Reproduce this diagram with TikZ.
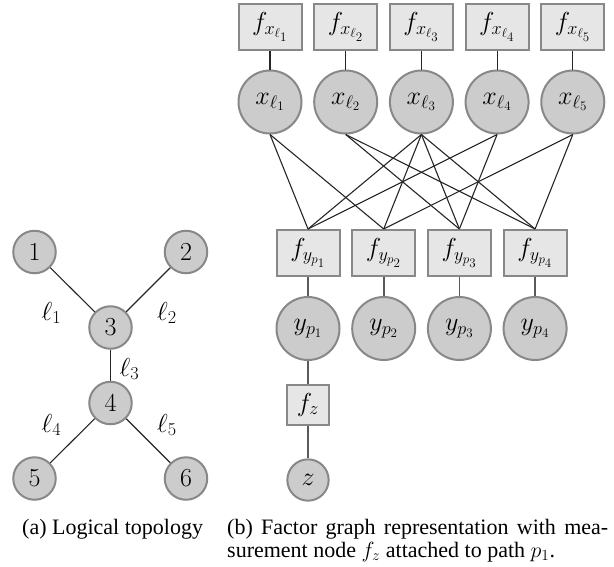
\RequirePackage{fix-cm}
\documentclass[tikz,border=0pt]{standalone}
\usepackage[no-math]{fontspec}
\setmainfont{Liberation Serif}
\definecolor{varfill}{HTML}{CCCCCC}
\definecolor{facfill}{HTML}{E6E6E6}
\definecolor{nodeborder}{HTML}{888888}
\definecolor{tiegray}{HTML}{5A5A5A}
\newcommand\graphfont{\fontsize{26}{30}\selectfont}
\newcommand\capfont{\fontsize{22}{23}\selectfont}
\tikzset{
  topo/.style={circle, draw=nodeborder, fill=varfill, line width=2pt,
    minimum size=42.5pt, inner sep=0pt, font=\graphfont},
  var/.style={circle, draw=nodeborder, fill=varfill, line width=2pt,
    minimum size=63pt, inner sep=0pt, font=\graphfont},
  fac/.style={rectangle, draw=nodeborder, fill=facfill, line width=2pt,
    minimum width=63pt, minimum height=46pt, inner sep=0pt, font=\graphfont},
  linklabel/.style={font=\graphfont, inner sep=0pt},
  link/.style={line width=1.1pt, black!85},
  tie/.style={line width=1.6pt, draw=tiegray},
  captext/.style={font=\capfont, inner sep=0pt, anchor=base west},
}
\begin{document}
\begin{tikzpicture}[x=1pt, y=-1pt]
  \useasboundingbox (0,0) rectangle (614,566);

  % (a) logical topology
  \node[topo] (n1) at (34.5,252) {$1$};
  \node[topo] (n2) at (186,252) {$2$};
  \node[topo] (n3) at (110.5,327.5) {$3$};
  \node[topo] (n4) at (110.5,403) {$4$};
  \node[topo] (n5) at (34.5,478.5) {$5$};
  \node[topo] (n6) at (186,478.5) {$6$};
  \draw[link] (n1) -- (n3);
  \draw[link] (n2) -- (n3);
  \draw[link] (n3) -- (n4);
  \draw[link] (n4) -- (n5);
  \draw[link] (n4) -- (n6);
  \node[linklabel] (l1) at (51.5,313) {$\ell_1$};
  \node[linklabel] (l2) at (167,313) {$\ell_2$};
  \node[linklabel] (l3) at (129.5,369) {$\ell_3$};
  \node[linklabel] (l4) at (51.5,425) {$\ell_4$};
  \node[linklabel] (l5) at (167,425) {$\ell_5$};

  % (b) factor graph: link factors and link variables
  \foreach \i in {1,...,5} {
    \pgfmathsetmacro{\xx}{270+75.7*(\i-1)}
    \node[fac] (fx\i) at (\xx,26.7) {$f_{x_{\ell_{\i}}}$};
    \node[var] (x\i) at (\xx,102) {$x_{\ell_{\i}}$};
    \draw[link] (fx\i) -- (x\i);
  }
  % path factors and path variables
  \foreach \j in {1,...,4} {
    \pgfmathsetmacro{\xx}{308+75.7*(\j-1)}
    \node[fac] (fy\j) at (\xx,253) {$f_{y_{p_{\j}}}$};
    \node[var] (y\j) at (\xx,328.5) {$y_{p_{\j}}$};
    \draw[tie] (fy\j) -- (y\j);
  }
  % links traversed by each path
  \foreach \a/\b in {1/1,1/2,2/3,2/4,3/1,3/2,3/3,3/4,4/1,4/3,5/2,5/4}
    \draw[link] (x\a.south) -- (fy\b.north);

  % measurement on path p1
  \node[fac, minimum width=42pt, minimum height=40pt] (fz) at (308,404.5) {$f_z$};
  \node[var, minimum size=41.3pt] (z) at (308,480) {$z$};
  \draw[tie] (y1) -- (fz);
  \draw[tie] (fz) -- (z);

  % captions
  \node[captext] (capa) at (22,534.5) {(a) Logical topology};
  \node[captext] (capb1) at (227,534.5)
    {\makebox[381pt][s]{(b) Factor graph representation with mea-}};
  \node[captext] (capb2) at (227,557)
    {surement node $f_z$ attached to path $p_1$.};
\end{tikzpicture}
\end{document}
